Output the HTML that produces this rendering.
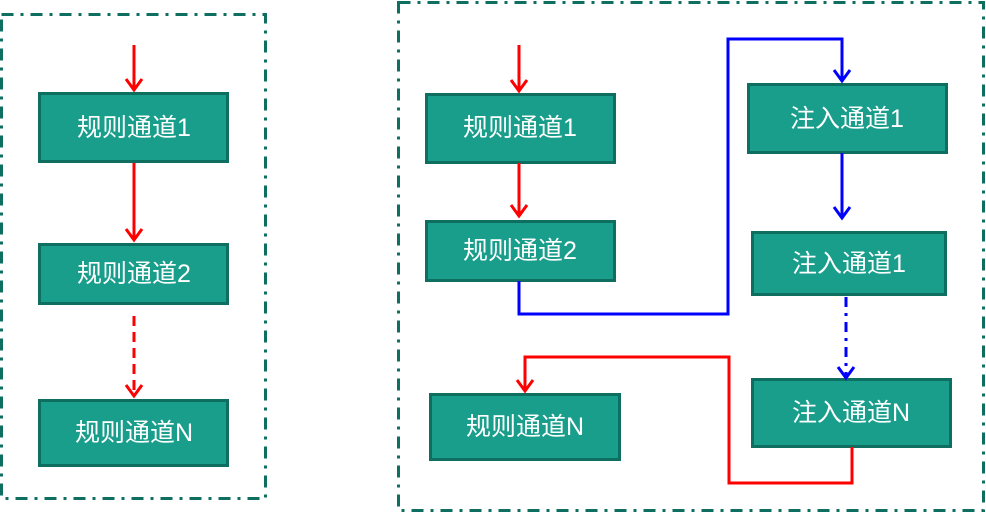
<!DOCTYPE html>
<html><head><meta charset="utf-8"><style>
html,body{margin:0;padding:0;background:#fff;}
svg{display:block}
text{font-family:"Liberation Sans","Noto Sans CJK SC",sans-serif;font-size:25px;fill:#fff;text-anchor:middle;dominant-baseline:central}
</style></head><body>
<svg width="986" height="514" viewBox="0 0 986 514" xmlns="http://www.w3.org/2000/svg">
<g fill="none" stroke="#0e6e60" stroke-width="3" stroke-dasharray="12,7,3,7">
<rect x="1.5" y="14.5" width="264" height="484"/>
<rect x="398.5" y="2.5" width="585" height="508"/>
</g>
<g fill="#1a9e8c" stroke="#0e6e60" stroke-width="3">
<rect x="39.5" y="93.5" width="188" height="68"/>
<rect x="39.5" y="244.5" width="188" height="59"/>
<rect x="39.5" y="400.5" width="188" height="65"/>
<rect x="426.5" y="94.5" width="188" height="68"/>
<rect x="426.5" y="221.5" width="188" height="59"/>
<rect x="748.5" y="84.5" width="198" height="68"/>
<rect x="752.5" y="232.5" width="193" height="62"/>
<rect x="752.5" y="379.5" width="198" height="67"/>
<rect x="430.5" y="394.5" width="189" height="65"/>
</g>
<text x="134" y="128">规则通道1</text>
<text x="134" y="274">规则通道2</text>
<text x="134" y="433">规则通道N</text>
<text x="520" y="128">规则通道1</text>
<text x="520" y="251">规则通道2</text>
<text x="847" y="119">注入通道1</text>
<text x="849" y="264">注入通道1</text>
<text x="851" y="413">注入通道N</text>
<text x="525" y="427">规则通道N</text>
<g fill="none" stroke-width="3">
<g stroke="#f00">
<path d="M134 45V90M126 79l8 11 8-11"/>
<path d="M134 163V240M126 229l8 11 8-11"/>
<path d="M134 316V396" stroke-dasharray="10,6"/>
<path d="M126 385l8 11 8-11"/>
<path d="M519 45V91M511 80l8 11 8-11"/>
<path d="M519 163V216M511 205l8 11 8-11"/>
<path d="M852 447V483H729V357H525V391M517 380l8 11 8-11"/>
</g>
<g stroke="#00f">
<path d="M519 281V314H728V39H842V81M834 70l8 11 8-11"/>
<path d="M842 153V218M834 207l8 11 8-11"/>
<path d="M846 297V378" stroke-dasharray="10,6,3,6"/>
<path d="M838 367l8 11 8-11"/>
</g>
</g>
</svg>
</body></html>
